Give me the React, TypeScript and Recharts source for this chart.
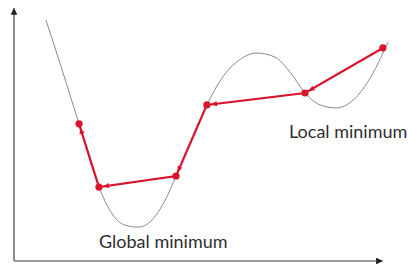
import React from "react";
import { LineChart, Line, XAxis, YAxis, ReferenceLine } from "recharts";

// Gray loss surface (x, y in abstract units)
const curveX = [0.85, 1.28, 1.73, 2.26, 2.61, 2.95, 3.3, 3.67, 4.02, 4.31, 4.73, 5.13, 5.53, 5.96, 6.46, 6.94, 7.34, 7.74, 8.14, 8.56, 8.99, 9.41, 9.95];
const curveY = [9.53, 7.55, 5.42, 2.92, 1.86, 1.42, 1.34, 1.62, 2.41, 3.36, 4.86, 6.17, 7.23, 7.91, 8.22, 8.06, 7.47, 6.64, 6.17, 6.05, 6.32, 7.08, 8.66];

// Red optimisation path
const pathX = [1.73, 2.26, 4.31, 5.13, 7.74, 9.81];
const pathY = [5.42, 2.92, 3.36, 6.17, 6.64, 8.42];

const labels = ["Local minimum", "Global minimum"];

const curveData = curveX.map((x, i) => ({ x, y: curveY[i] }));
const pathData = pathX.map((x, i) => ({ x, y: pathY[i] }));

const RED = "#d9142b";
const pix: { x: number; y: number }[] = [];

const PathDot = (props: any) => {
  const { cx, cy, index } = props;
  pix[index] = { x: cx, y: cy };
  let arrow: React.ReactNode = null;
  if (index > 0 && pix[index - 1]) {
    const p = pix[index - 1];
    const dx = cx - p.x;
    const dy = cy - p.y;
    const len = Math.sqrt(dx * dx + dy * dy) || 1;
    const ux = dx / len;
    const uy = dy / len;
    const tx = p.x + ux * 4;
    const ty = p.y + uy * 4;
    const bx = tx + ux * 6;
    const by = ty + uy * 6;
    const px = -uy * 2.6;
    const py = ux * 2.6;
    arrow = (
      <polygon
        points={`${tx},${ty} ${bx + px},${by + py} ${bx - px},${by - py}`}
        fill={RED}
      />
    );
  }
  return (
    <g key={`dot-${index}`}>
      {arrow}
      <circle cx={cx} cy={cy} r={3.6} fill={RED} />
    </g>
  );
};

const labelStyle: React.CSSProperties = {
  position: "absolute",
  fontFamily: "Lato",
  fontSize: 18,
  lineHeight: "18px",
  color: "#2e2e2e",
  whiteSpace: "nowrap",
};

export default function App() {
  pix.length = 0;
  return (
    <div style={{ position: "absolute", left: 0, top: 0, width: 408, height: 266, background: "#fff" }}>
      <svg width={0} height={0} style={{ position: "absolute" }}>
        <defs>
          <marker id="axArrow" viewBox="0 0 10 10" refX="10" refY="5" markerWidth="4" markerHeight="4" orient="auto" markerUnits="strokeWidth">
            <path d="M0,0 L10,5 L0,10 z" fill="#222" />
          </marker>
        </defs>
      </svg>
      <LineChart width={408} height={266} margin={{ top: 8, right: 18, bottom: 5, left: 14 }}>
        <XAxis type="number" dataKey="x" domain={[0, 10]} hide allowDataOverflow />
        <YAxis type="number" dataKey="y" domain={[0, 10]} hide allowDataOverflow />
        <ReferenceLine
          segment={[{ x: 0, y: 0 }, { x: 0, y: 10 }]}
          stroke="#7a7a7a"
          strokeWidth={1.7}
          markerEnd="url(#axArrow)"
          ifOverflow="visible"
        />
        <ReferenceLine
          segment={[{ x: 0, y: 0 }, { x: 9.81, y: 0 }]}
          stroke="#7a7a7a"
          strokeWidth={1.7}
          markerEnd="url(#axArrow)"
          ifOverflow="visible"
        />
        <Line
          data={curveData}
          dataKey="y"
          type="monotone"
          stroke="#8a8a8a"
          strokeWidth={1}
          dot={false}
          activeDot={false}
          isAnimationActive={false}
        />
        <Line
          data={pathData}
          dataKey="y"
          type="linear"
          stroke={RED}
          strokeWidth={2.2}
          dot={PathDot}
          activeDot={false}
          isAnimationActive={false}
        />
      </LineChart>
      <div style={{ ...labelStyle, left: 289, top: 122 }}>{labels[0]}</div>
      <div style={{ ...labelStyle, left: 99, top: 232 }}>{labels[1]}</div>
    </div>
  );
}
